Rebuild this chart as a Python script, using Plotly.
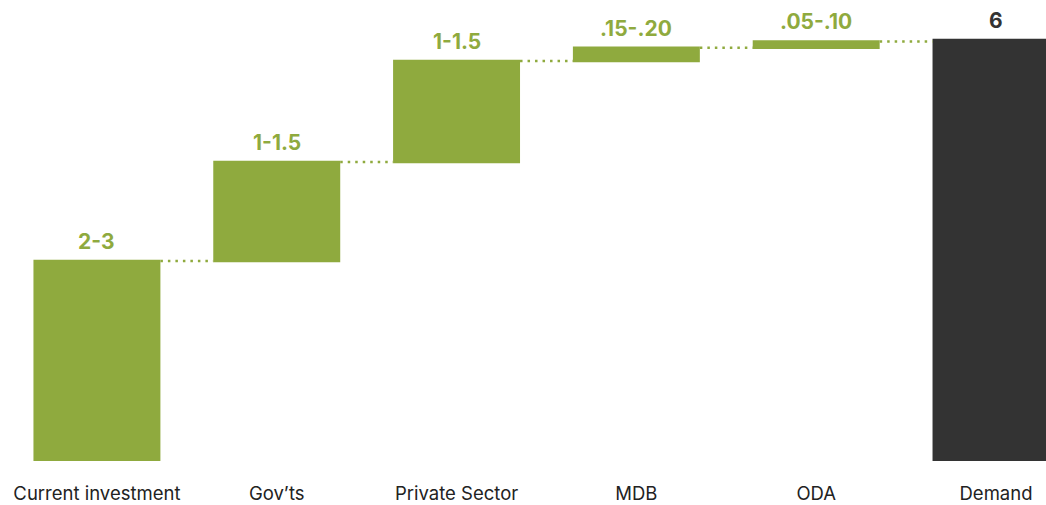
import plotly.graph_objects as go

categories = ["Current investment", "Gov\u2019ts", "Private Sector", "MDB", "ODA", "Demand"]
values = [2.85, 1.41, 1.44, 0.19, 0.09, 6]
measures = ["relative", "relative", "relative", "relative", "relative", "absolute"]
labels = ["2-3", "1-1.5", "1-1.5", ".15-.20", ".05-.10", "6"]

GREEN = "#8FAA3E"
DARK = "#333333"

fig = go.Figure(go.Waterfall(
    x=list(range(len(categories))),
    y=values,
    measure=measures,
    width=0.706,
    increasing=dict(marker=dict(color=GREEN)),
    totals=dict(marker=dict(color=DARK)),
    connector=dict(line=dict(color=GREEN, width=2.5, dash="2.5px,5px"), mode="between"),
    hoverinfo="skip",
))

# label positions: cumulative tops
tops = []
run = 0
for v, m in zip(values, measures):
    run = v if m == "absolute" else run + v
    tops.append(run)

for i, (t, lab) in enumerate(zip(tops, labels)):
    fig.add_annotation(
        x=i, y=t, text="<b>" + lab + "</b>", showarrow=False,
        yanchor="bottom", yshift=5,
        font=dict(family="Inter, Roboto, sans-serif", size=21,
                  color=DARK if measures[i] == "absolute" else GREEN),
    )

fig.update_layout(
    width=1046, height=505,
    margin=dict(l=0, r=0, t=0, b=44),
    plot_bgcolor="white", paper_bgcolor="white",
    showlegend=False,
    xaxis=dict(
        range=[-0.539, 5.278], tickmode="array",
        tickvals=list(range(len(categories))), ticktext=categories,
        showgrid=False, zeroline=False, showline=False,
        ticks="outside", ticklen=16, tickcolor="rgba(0,0,0,0)",
        tickfont=dict(family="Inter, Roboto, sans-serif", size=18.5, color="#222222"),
    ),
    yaxis=dict(range=[0, 6.57], visible=False),
)

fig.write_html(
    "out.html",
    config={"displayModeBar": False, "staticPlot": True},
    post_script="document.body.style.margin='0';document.body.style.overflow='hidden';",
)
